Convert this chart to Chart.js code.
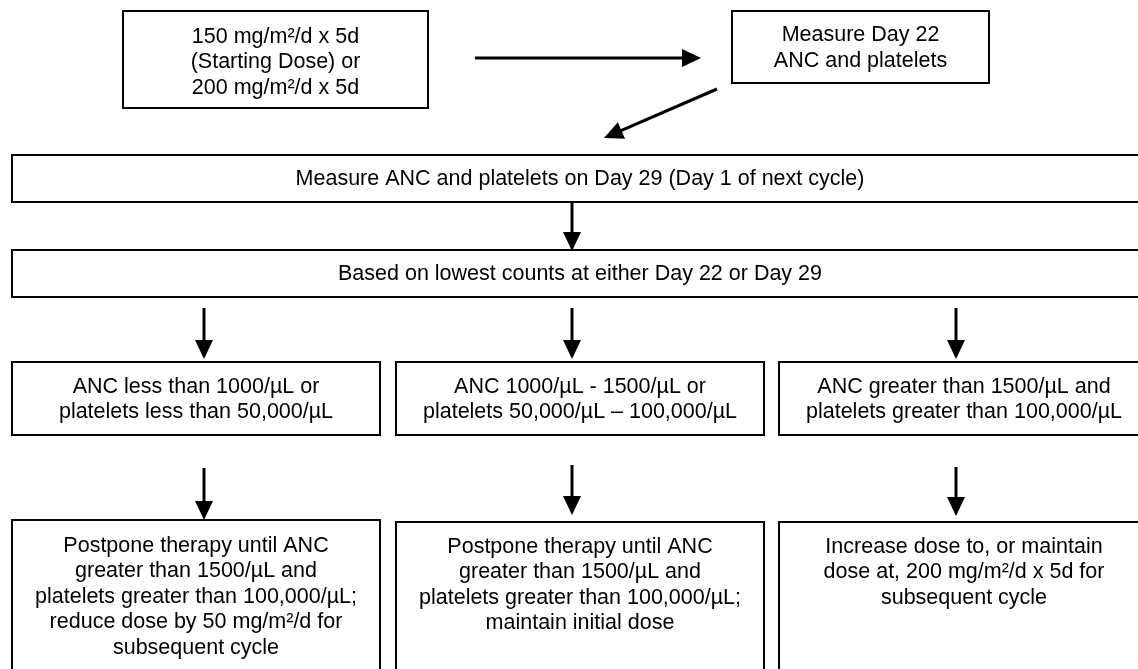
<!DOCTYPE html>
<html lang="en">
<head>
  <meta charset="UTF-8" />
  <title>Dose adjustment flowchart</title>
  <script src="https://cdn.jsdelivr.net/npm/chart.js"></script>
  <style>
    html, body { margin: 0; padding: 0; background: #ffffff; }
    #wrap { width: 1138px; height: 669px; }
  </style>
</head>
<body>
  <div id="wrap"><canvas id="flow" width="1138" height="669"></canvas></div>

  <script>
    // text of every box, one entry per line
    const startDose = ['150 mg/m²/d x 5d', '(Starting Dose) or', '200 mg/m²/d x 5d'];
    const day22 = ['Measure Day 22', 'ANC and platelets'];
    const day29 = ['Measure ANC and platelets on Day 29 (Day 1 of next cycle)'];
    const basedOn = ['Based on lowest counts at either Day 22 or Day 29'];
    const countRanges = [
      ['ANC less than 1000/µL or', 'platelets less than 50,000/µL'],
      ['ANC 1000/µL - 1500/µL or', 'platelets 50,000/µL – 100,000/µL'],
      ['ANC greater than 1500/µL and', 'platelets greater than 100,000/µL']
    ];
    const actions = [
      ['Postpone therapy until ANC', 'greater than 1500/µL and', 'platelets greater than 100,000/µL;', 'reduce dose by 50 mg/m²/d for', 'subsequent cycle'],
      ['Postpone therapy until ANC', 'greater than 1500/µL and', 'platelets greater than 100,000/µL;', 'maintain initial dose'],
      ['Increase dose to, or maintain', 'dose at, 200 mg/m²/d x 5d for', 'subsequent cycle']
    ];

    // layout in axis units: box [x0, y0, x1, y1], ty = first text line
    const layout = [
      { box: [123, 11, 428, 108], ty: 37, lines: startDose },
      { box: [732, 11, 989, 83], ty: 35.5, lines: day22 },
      { box: [12, 155, 1148, 202], ty: 179.5, lines: day29 },
      { box: [12, 250, 1148, 297], ty: 274, lines: basedOn },
      { box: [12, 362, 380, 435], ty: 387, lines: countRanges[0] },
      { box: [396, 362, 764, 435], ty: 387, lines: countRanges[1] },
      { box: [779, 362, 1149, 435], ty: 387, lines: countRanges[2] },
      { box: [12, 520, 380, 720], ty: 546, lines: actions[0] },
      { box: [396, 522, 764, 720], ty: 547, lines: actions[1] },
      { box: [779, 522, 1149, 720], ty: 547, lines: actions[2] }
    ];

    // arrows: [x start, y start, x tip, y tip]
    const arrows = [
      [475, 58, 701, 58],
      [717, 89, 604, 138],
      [572, 202, 572, 251],
      [204, 308, 204, 359],
      [572, 308, 572, 359],
      [956, 308, 956, 359],
      [204, 468, 204, 520],
      [572, 465, 572, 515],
      [956, 467, 956, 516]
    ];

    const HEAD_LEN = 19;
    const HEAD_HALF = 9;
    const LINE_H = 25.5;
    const FONT = '21.5px "Liberation Sans", Arial, sans-serif';

    // shaft stops just inside the arrow head so the tip stays sharp
    function shaft(a) {
      const [x0, y0, x1, y1] = a;
      const d = Math.hypot(x1 - x0, y1 - y0);
      const k = (d - HEAD_LEN + 3) / d;
      return [{ x: x0, y: y0 }, { x: x0 + (x1 - x0) * k, y: y0 + (y1 - y0) * k }];
    }

    const flowPlugin = {
      id: 'flowBoxes',
      afterDatasetsDraw(chart) {
        const ctx = chart.ctx;
        const xs = chart.scales.x;
        const ys = chart.scales.y;

        ctx.save();
        ctx.strokeStyle = '#000';
        ctx.lineWidth = 2;
        layout.forEach(node => {
          const [x0, y0, x1, y1] = node.box;
          const px0 = xs.getPixelForValue(x0), px1 = xs.getPixelForValue(x1);
          const py0 = ys.getPixelForValue(y0), py1 = ys.getPixelForValue(y1);
          ctx.strokeRect(px0, py0, px1 - px0, py1 - py0);

          ctx.fillStyle = '#000';
          ctx.font = FONT;
          ctx.textAlign = 'center';
          ctx.textBaseline = 'middle';
          const cx = (px0 + px1) / 2;
          node.lines.forEach((line, i) => {
            ctx.fillText(line, cx, ys.getPixelForValue(node.ty + i * LINE_H));
          });
        });

        // arrow heads
        ctx.fillStyle = '#000';
        arrows.forEach(a => {
          const sx = xs.getPixelForValue(a[0]), sy = ys.getPixelForValue(a[1]);
          const tx = xs.getPixelForValue(a[2]), ty = ys.getPixelForValue(a[3]);
          const ang = Math.atan2(ty - sy, tx - sx);
          const bx = tx - HEAD_LEN * Math.cos(ang), by = ty - HEAD_LEN * Math.sin(ang);
          const nx = -Math.sin(ang) * HEAD_HALF, ny = Math.cos(ang) * HEAD_HALF;
          ctx.beginPath();
          ctx.moveTo(tx, ty);
          ctx.lineTo(bx + nx, by + ny);
          ctx.lineTo(bx - nx, by - ny);
          ctx.closePath();
          ctx.fill();
        });
        ctx.restore();
      }
    };

    new Chart(document.getElementById('flow').getContext('2d'), {
      type: 'scatter',
      data: {
        datasets: arrows.map(a => ({
          data: shaft(a),
          showLine: true,
          borderColor: '#000',
          borderWidth: 3,
          pointRadius: 0,
          pointHoverRadius: 0
        }))
      },
      options: {
        responsive: false,
        animation: false,
        layout: { padding: 0 },
        scales: {
          x: { type: 'linear', min: 0, max: 1138, display: false },
          y: { type: 'linear', min: 0, max: 669, reverse: true, display: false }
        },
        plugins: {
          legend: { display: false },
          tooltip: { enabled: false }
        }
      },
      plugins: [flowPlugin]
    });
  </script>
</body>
</html>
